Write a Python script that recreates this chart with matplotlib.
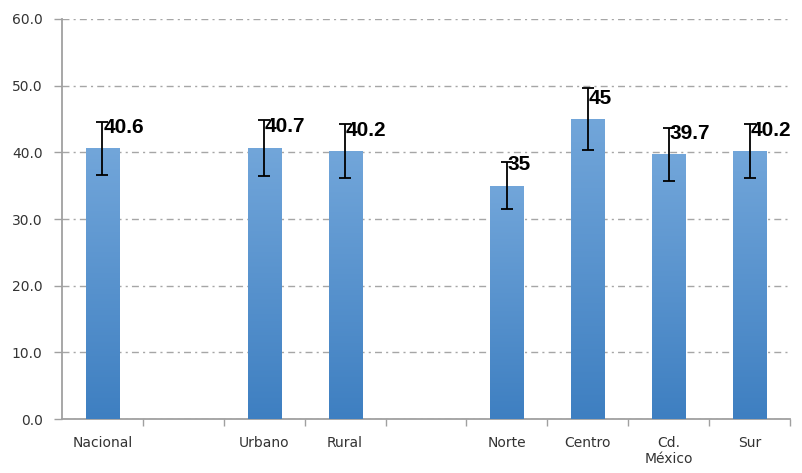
import numpy as np
import matplotlib
matplotlib.use("Agg")
import matplotlib.pyplot as plt
from matplotlib.colors import LinearSegmentedColormap

# datos (huecos = separacion entre grupos)
categorias = ['Nacional', '', 'Urbano', 'Rural', '', 'Norte', 'Centro', 'Cd.\nMéxico', 'Sur']
valores = [40.6, np.nan, 40.7, 40.2, np.nan, 35, 45, 39.7, 40.2]
errores = [4.0, np.nan, 4.2, 4.0, np.nan, 3.5, 4.6, 4.0, 4.1]
yticks = [0, 10, 20, 30, 40, 50, 60]

fig = plt.figure(figsize=(8.02, 4.73), dpi=100)
ax = fig.add_subplot(111)
fig.subplots_adjust(left=62/802, right=790/802, top=1-19/473, bottom=1-419/473)

x = np.arange(len(categorias))
ancho = 0.41
barras = ax.bar(x, np.nan_to_num(valores), width=ancho, color='none', zorder=3)

# degradado en cada barra, como en excel
cmap = LinearSegmentedColormap.from_list('azul', ['#3e7fc1', '#72a6da'])
grad = np.linspace(0, 1, 256).reshape(-1, 1)
for b, v in zip(barras, valores):
    if np.isnan(v):
        continue
    x0 = b.get_x()
    im = ax.imshow(grad, cmap=cmap, aspect='auto', origin='lower',
                   extent=[x0, x0 + ancho, 0, v], zorder=3)
    im.set_clip_path(b)

ax.errorbar(x, valores, yerr=errores, fmt='none', ecolor='black',
            elinewidth=1.3, capsize=4, capthick=1.3, zorder=4)

for xi, v in zip(x, valores):
    if np.isnan(v):
        continue
    ax.annotate('{:g}'.format(v), (xi, v), xytext=(0.5, 15), textcoords='offset points',
                ha='left', va='center', fontsize=15, fontweight='bold',
                family='Liberation Sans', color='black', zorder=5)

ax.set_xlim(-0.5, len(categorias) - 0.5)
ax.set_ylim(0, 60)
ax.set_yticks(yticks)
ax.set_yticklabels(['%.1f' % t for t in yticks])
ax.set_xticks(x)
ax.set_xticklabels(categorias)
ax.set_xticks(np.arange(len(categorias)) + 0.5, minor=True)
ax.tick_params(axis='x', which='major', length=0, pad=12, labelsize=10, labelcolor='#333333')
ax.tick_params(axis='x', which='minor', length=5, width=1, color='#a0a0a0', direction='out')
ax.tick_params(axis='y', length=6, width=1, color='#a0a0a0', pad=8, labelsize=10, labelcolor='#333333')

ax.yaxis.grid(True, linestyle=(0, (5, 3, 1.5, 3)), color='#a6a6a6', linewidth=1, zorder=0)
ax.set_axisbelow(True)
for s in ['top', 'right']:
    ax.spines[s].set_visible(False)
for s in ['left', 'bottom']:
    ax.spines[s].set_color('#a0a0a0')
    ax.spines[s].set_linewidth(1.3)

fig.savefig('out.png', dpi=100)
